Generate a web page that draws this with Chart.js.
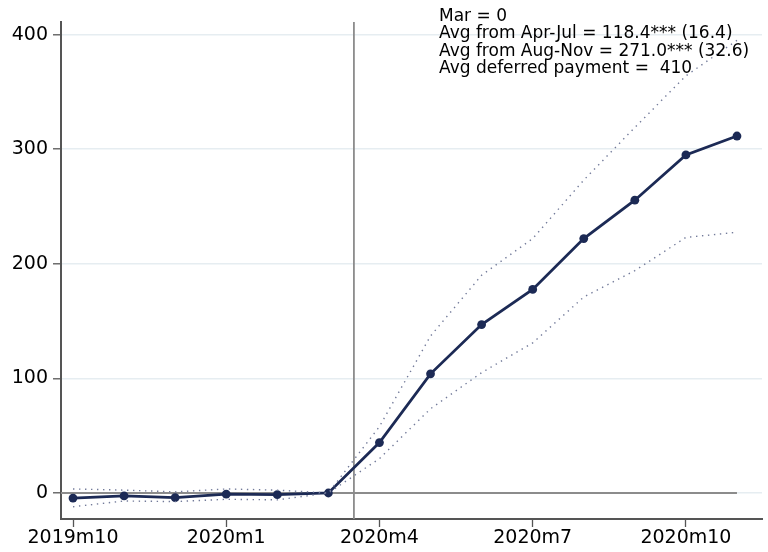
<!DOCTYPE html>
<html lang="en">
<head>
  <meta charset="UTF-8">
  <title>Deferred payment event study</title>
  <script src="https://cdn.jsdelivr.net/npm/chart.js"></script>
  <style>
    html, body { margin: 0; padding: 0; background: #fff; }
    #wrap { width: 768px; height: 552px; position: relative; }
  </style>
</head>
<body>
  <div id="wrap"><canvas id="chart" width="768" height="552"></canvas></div>

  <script>
    // Months 2019m10 .. 2020m11 (index 0..13)
    const months = ['2019m10', '2019m11', '2019m12', '2020m1', '2020m2', '2020m3', '2020m4',
                    '2020m5', '2020m6', '2020m7', '2020m8', '2020m9', '2020m10', '2020m11'];
    const estimate = [-4.4, -2.6, -4, -1, -1.5, 0, 44, 104, 147, 177.6, 222, 255.5, 295, 311.5];
    const upperCI = [3.5, 2.5, 1, 3.5, 2.5, 0, 58, 137, 190, 222, 273, 319, 364, 395];
    const lowerCI = [-12, -7, -7.5, -5.5, -6, 0, 30, 73.5, 105, 131, 171, 194, 223, 227.5];
    const xTickIdx = [0, 3, 6, 9, 12];
    const yTicks = [0, 100, 200, 300, 400];
    const eventLine = 5.5;
    const notes = ['Mar = 0', 'Avg from Apr-Jul = 118.4*** (16.4)',
                   'Avg from Aug-Nov = 271.0*** (32.6)', 'Avg deferred payment =  410'];

    const pts = arr => arr.map((v, i) => ({ x: i, y: v }));

    // reference lines + annotation text
    const extras = {
      id: 'extras',
      beforeDatasetsDraw(chart) {
        const { ctx, chartArea, scales: { x, y } } = chart;
        ctx.save();
        ctx.strokeStyle = '#8c8c8c';
        ctx.lineWidth = 1.8;
        const y0 = y.getPixelForValue(0);
        ctx.beginPath();
        ctx.moveTo(chartArea.left, y0);
        ctx.lineTo(x.getPixelForValue(13), y0);
        ctx.stroke();
        const xv = x.getPixelForValue(eventLine);
        ctx.beginPath();
        ctx.moveTo(xv, chartArea.top);
        ctx.lineTo(xv, chartArea.bottom);
        ctx.stroke();
        ctx.restore();
      },
      afterDraw(chart) {
        const { ctx } = chart;
        ctx.save();
        ctx.font = '17px "DejaVu Sans"';
        ctx.fillStyle = '#000';
        ctx.textBaseline = 'alphabetic';
        notes.forEach((t, i) => ctx.fillText(t, 439, 21 + i * 17.4));
        ctx.restore();
      }
    };

    const ciStyle = {
      borderColor: '#737b9a',
      borderWidth: 1.4,
      borderDash: [1.4, 4.6],
      pointRadius: 0,
      fill: false,
      tension: 0
    };

    new Chart(document.getElementById('chart'), {
      type: 'line',
      data: {
        datasets: [
          Object.assign({ label: 'upper', data: pts(upperCI) }, ciStyle),
          Object.assign({ label: 'lower', data: pts(lowerCI) }, ciStyle),
          {
            label: 'estimate',
            data: pts(estimate),
            borderColor: '#1c2a55',
            backgroundColor: '#1c2a55',
            borderWidth: 2.8,
            pointRadius: 4.4,
            pointBorderWidth: 0,
            tension: 0
          }
        ]
      },
      options: {
        responsive: false,
        animation: false,
        clip: false,
        layout: { padding: { left: 0, right: 6, top: 22, bottom: 0 } },
        plugins: { legend: { display: false }, tooltip: { enabled: false } },
        scales: {
          x: {
            type: 'linear',
            min: -0.235,
            max: 13.49,
            afterBuildTicks(s) { s.ticks = xTickIdx.map(v => ({ value: v })); },
            afterFit(s) { s.height = 33; },
            ticks: {
              callback: v => months[v],
              font: { family: 'DejaVu Sans', size: 19 },
              color: '#000',
              padding: 0,
              maxRotation: 0,
              autoSkip: false
            },
            grid: { drawOnChartArea: false, tickLength: 8, tickColor: '#555', tickWidth: 1.3 },
            border: { color: '#555', width: 2 }
          },
          y: {
            min: -22.7,
            max: 411,
            afterBuildTicks(s) { s.ticks = yTicks.map(v => ({ value: v })); },
            afterFit(s) { s.width = 61; },
            ticks: {
              font: { family: 'DejaVu Sans', size: 19 },
              color: '#000',
              padding: 5
            },
            grid: { color: '#e6edf1', lineWidth: 1.6, tickLength: 8, tickColor: '#555', tickWidth: 1.3 },
            border: { color: '#555', width: 2 }
          }
        }
      },
      plugins: [extras]
    });
  </script>
</body>
</html>
